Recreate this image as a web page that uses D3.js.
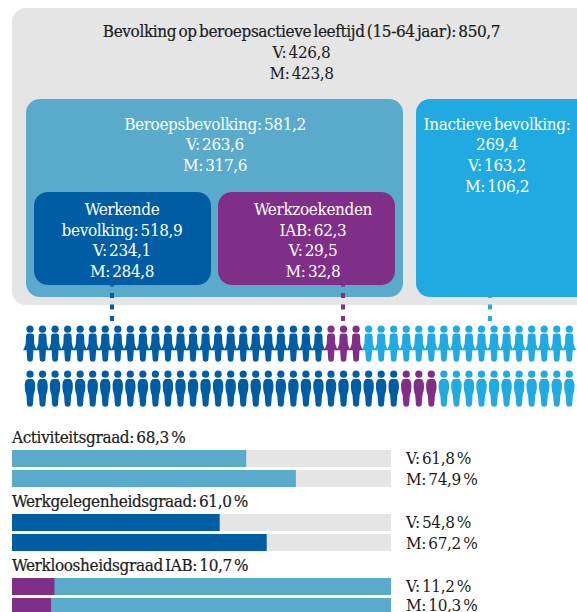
<!DOCTYPE html>
<html>
<head>
<meta charset="utf-8">
<script src="https://cdn.jsdelivr.net/npm/d3@7"></script>
<style>
  html, body { margin: 0; padding: 0; background: #fff; }
  svg { display: block; }
  text { font-family: "DejaVu Serif Condensed", "DejaVu Serif", serif; font-size: 17px; letter-spacing: -0.38px; word-spacing: -2.2px; }
  .dark { stroke: #1c1c1c; stroke-width: 0.2px; }
</style>
</head>
<body>
<div id="chart"></div>
<script>
  // aantallen x 1000
  const totalLines    = ['Bevolking op beroepsactieve leeftijd (15-64 jaar): 850,7', 'V: 426,8', 'M: 423,8']
  const labourLines   = ['Beroepsbevolking: 581,2', 'V: 263,6', 'M: 317,6']
  const inactiveLines = ['Inactieve bevolking:', '269,4', 'V: 163,2', 'M: 106,2']
  const workingLines  = ['Werkende', 'bevolking: 518,9', 'V: 234,1', 'M: 284,8']
  const seekingLines  = ['Werkzoekenden', 'IAB: 62,3', 'V: 29,5', 'M: 32,8']

  // figuurtjes per rij: werkend, werkzoekend, inactief
  const groupKeys   = ['working', 'seeking', 'inactive']
  const womenCounts = [24, 3, 17]
  const menCounts   = [30, 3, 11]

  const rateTitles  = ['Activiteitsgraad: 68,3 %', 'Werkgelegenheidsgraad: 61,0 %', 'Werkloosheidsgraad IAB: 10,7 %']
  const rateWomen   = [61.8, 54.8, 11.2]
  const rateMen     = [74.9, 67.2, 10.3]
  const rateLabels  = [['V: 61,8 %', 'M: 74,9 %'], ['V: 54,8 %', 'M: 67,2 %'], ['V: 11,2 %', 'M: 10,3 %']]

  const colors = { grey: '#e5e5e5', teal: '#5aabcb', inactive: '#21aae2', working: '#005da3', seeking: '#7f2f87', ink: '#1c1c1c' }

  const width = 577, height = 612

  const svg = d3.select('#chart').append('svg')
    .attr('width', width)
    .attr('height', height)

  function box(x0, y0, x1, y1, fill) {
    svg.append('rect')
      .attr('x', x0).attr('y', y0)
      .attr('width', x1 - x0).attr('height', y1 - y0)
      .attr('rx', 14).attr('fill', fill)
  }

  function lines(arr, cx, baselines, fill) {
    svg.append('g').selectAll('text').data(arr).enter()
      .append('text')
        .attr('x', cx)
        .attr('y', (d, i) => baselines[i])
        .attr('text-anchor', 'middle')
        .attr('fill', fill)
        .text(d => d)
  }

  // kaders
  box(12, 8, 600, 305, colors.grey)
  box(26, 99, 403, 297, colors.teal)
  box(416, 99, 600, 297, colors.inactive)
  box(34, 192, 211, 285, colors.working)
  box(218, 192, 395, 285, colors.seeking)

  lines(totalLines, 301.5, [37, 58, 79], colors.ink)
  svg.selectAll('text').filter((d, i) => i === 0).classed('dark', true)
  lines(labourLines, 215, [130, 150, 171], '#fff')
  lines(inactiveLines, 497, [130, 150, 171, 192], '#fff')
  lines(workingLines, 122, [215, 236, 256, 277], '#fff')
  lines(seekingLines, 313, [215, 236, 256, 277], '#fff')

  // stippellijntjes naar de figuurtjes
  const connectors = [
    { x: 112, from: 285, color: colors.working },
    { x: 343, from: 285, color: colors.seeking },
    { x: 490, from: 297, color: colors.inactive }
  ]
  svg.append('g').selectAll('line').data(connectors).enter()
    .append('line')
      .attr('x1', d => d.x).attr('x2', d => d.x)
      .attr('y1', 321).attr('y2', d => d.from)
      .attr('stroke', d => d.color)
      .attr('stroke-width', 4)
      .attr('stroke-dasharray', '5 6.5')

  // figuurtjes
  const womanShape = 'M-1.6,8 L1.6,8 C3.4,8 4,9.5 4,11.5 L4.2,17.5 C4.6,20 6,23 7,24.8 L3.4,24.8 L2.8,34 C2.6,37 -2.6,37 -2.8,34 L-3.4,24.8 L-7,24.8 C-6,23 -4.6,20 -4.2,17.5 L-4,11.5 C-4,9.5 -3.4,8 -1.6,8 Z'
  const manShape   = 'M-2,8.5 L2,8.5 C4,8.5 5.2,11.5 5.2,15.5 C5.2,19.5 4.6,22 3.6,24.5 L2.9,34 C2.6,37 -2.6,37 -2.9,34 L-3.6,24.5 C-4.6,22 -5.2,19.5 -5.2,15.5 C-5.2,11.5 -4,8.5 -2,8.5 Z'

  const figureCount = d3.sum(womenCounts)
  const figureX = d3.scalePoint()
    .domain(d3.range(figureCount))
    .range([30, 569.3])

  function figureRow(counts, top, shape) {
    let keys = []
    counts.forEach((c, i) => { keys = keys.concat(d3.range(c).map(() => groupKeys[i])) })

    let row = svg.append('g').attr('transform', 'translate(0,' + top + ')')
    let fig = row.selectAll('g').data(keys).enter()
      .append('g')
        .attr('transform', (d, i) => 'translate(' + figureX(i) + ',0)')
        .attr('fill', d => colors[d])
    fig.append('circle').attr('cy', 3.7).attr('r', 3.6)
    fig.append('path').attr('d', shape)
  }

  figureRow(womenCounts, 325.5, womanShape)
  figureRow(menCounts, 370.5, manShape)

  // percentages
  const barX = d3.scaleLinear().domain([0, 100]).range([12, 391])
  const sectionTop = [450, 514, 578]
  const barHeight = 17, rowStep = 20

  rateTitles.forEach((title, i) => {
    let top = sectionTop[i]
    let values = [rateWomen[i], rateMen[i]]

    svg.append('text')
      .attr('class', 'dark')
      .attr('x', 12).attr('y', top - 7.5)
      .attr('fill', colors.ink)
      .text(title)

    values.forEach((v, j) => {
      let y = top + j * rowStep
      // bij werkloosheid is de rest van de balk de werkende bevolking
      svg.append('rect')
        .attr('x', barX(0)).attr('y', y)
        .attr('width', barX(100) - barX(0)).attr('height', barHeight)
        .attr('fill', i === 2 ? colors.teal : colors.grey)
      svg.append('rect')
        .attr('x', barX(0)).attr('y', y)
        .attr('width', barX(v) - barX(0)).attr('height', barHeight)
        .attr('fill', i === 0 ? colors.teal : i === 1 ? colors.working : colors.seeking)
      svg.append('text')
        .attr('x', 406).attr('y', Math.min(y + 14 + j, 611))
        .attr('fill', colors.ink)
        .text(rateLabels[i][j])
    })
  })
</script>
</body>
</html>
